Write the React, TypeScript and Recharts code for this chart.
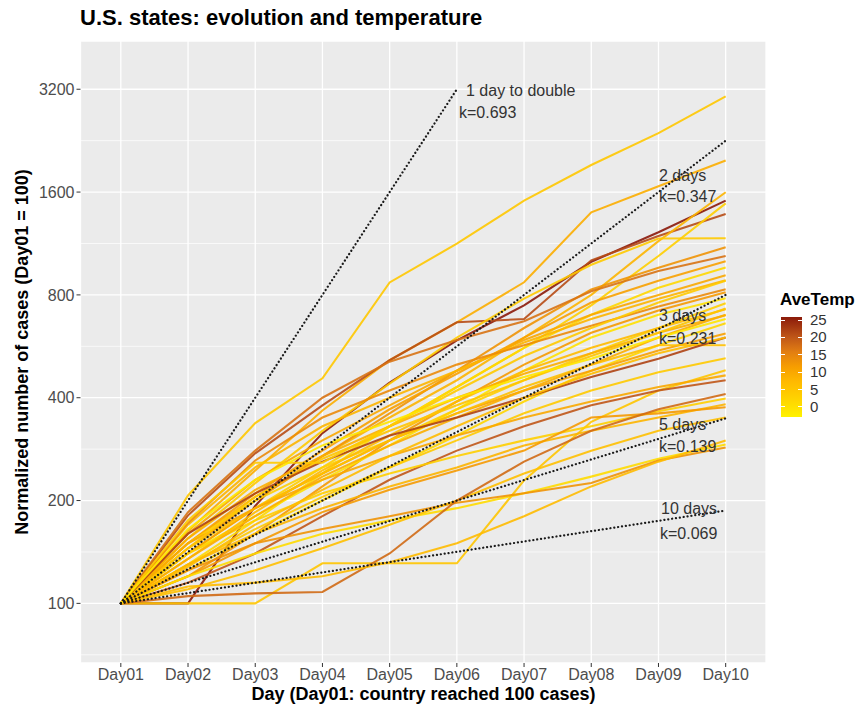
import React from "react";
import { LineChart, Line, XAxis, YAxis, CartesianGrid, ReferenceLine } from "recharts";

const DAYS = ["Day01", "Day02", "Day03", "Day04", "Day05", "Day06", "Day07", "Day08", "Day09", "Day10"];
const Y_TICKS = [100, 200, 400, 800, 1600, 3200];
const TEMP_TICKS = [0, 5, 10, 15, 20, 25];
const TEMP_LIMITS = [-2.9, 25.9];

// normalized cases per state, Day01..Day10
const STATE_CASES: number[][] = [
  [100, 207, 337, 456, 870, 1130, 1510, 1920, 2380, 3050],
  [100, 163, 245, 367, 515, 665, 871, 1396, 1665, 1980],
  [100, 100, 193, 315, 443, 589, 745, 1000, 1220, 1510],
  [100, 181, 275, 380, 515, 665, 680, 1010, 1190, 1380],
  [100, 140, 190, 250, 330, 430, 560, 745, 1040, 1483],
  [100, 150, 205, 270, 350, 450, 600, 800, 1150, 1598],
  [100, 155, 225, 320, 440, 600, 780, 980, 1170, 1172],
  [100, 145, 200, 270, 360, 480, 640, 830, 960, 1103],
  [100, 150, 210, 280, 370, 470, 600, 760, 880, 1003],
  [100, 130, 175, 240, 330, 430, 560, 700, 840, 963],
  [100, 160, 230, 300, 380, 480, 590, 700, 800, 913],
  [100, 170, 250, 330, 400, 480, 580, 680, 780, 883],
  [100, 172, 262, 350, 420, 500, 570, 650, 740, 831],
  [100, 120, 160, 220, 300, 390, 500, 620, 720, 814],
  [100, 140, 180, 230, 290, 370, 480, 600, 700, 782],
  [100, 150, 200, 250, 300, 370, 450, 540, 640, 756],
  [100, 135, 185, 245, 310, 390, 480, 560, 640, 726],
  [100, 155, 215, 270, 330, 400, 470, 540, 620, 697],
  [100, 125, 160, 200, 250, 310, 390, 480, 570, 661],
  [100, 140, 190, 240, 300, 360, 420, 480, 550, 617],
  [100, 145, 190, 240, 300, 360, 430, 500, 570, 570],
  [100, 130, 165, 205, 250, 300, 360, 420, 475, 522],
  [100, 100, 100, 131, 131, 131, 229, 340, 420, 481],
  [100, 150, 190, 230, 270, 310, 350, 390, 430, 465],
  [100, 115, 140, 180, 230, 280, 330, 380, 420, 450],
  [100, 140, 175, 210, 240, 270, 300, 330, 365, 398],
  [100, 130, 160, 190, 220, 250, 290, 320, 350, 383],
  [100, 120, 150, 185, 215, 245, 280, 350, 360, 375],
  [100, 120, 140, 160, 175, 190, 210, 235, 265, 292],
  [100, 125, 150, 165, 180, 197, 210, 225, 262, 286],
  [100, 110, 125, 145, 170, 200, 240, 280, 320, 350],
  [100, 105, 107, 108, 140, 200, 260, 320, 370, 410],
  [100, 112, 115, 120, 132, 150, 180, 220, 260, 300],
  [100, 185, 280, 400, 510, 590, 670, 820, 940, 1040],
  [100, 135, 180, 235, 290, 350, 420, 500, 600, 700],
  [100, 145, 205, 265, 320, 380, 450, 530, 620, 730],
  [100, 160, 210, 260, 310, 350, 400, 460, 520, 600],
  [100, 128, 170, 215, 270, 330, 400, 470, 540, 600],
  [100, 175, 258, 258, 330, 420, 530, 640, 760, 880],
  [100, 165, 230, 290, 340, 400, 460, 520, 600, 680],
];

const STATE_TEMPS = [
  4.5, 9, 25.9, 21, 3, 8, 4, 13, 11, 1.5,
  10, 8, 14, 12, 0, 3, 7, 9, 2, 11,
  6, 4, 5, 10, 20, 3, 8, 12, 1, 13,
  6, 18, 7, 17, 9, 5, 22, 7, 4, -1,
];

// doubling-time guides: start Day01 = 100, end point
const GUIDE_NAMES = ["1 day to double", "2 days", "3 days", "5 days", "10 days"];
const GUIDE_K = ["k=0.693", "k=0.347", "k=0.231", "k=0.139", "k=0.069"];
const GUIDE_END_DAY = [6, 10, 10, 10, 10];
const GUIDE_END_VALUE = [3200, 2263, 800, 348, 187];

const COLOR_STOPS: [number, string][] = [
  [0, "#FFF200"],
  [0.2, "#FFD000"],
  [0.35, "#FFBA00"],
  [0.5, "#F79E00"],
  [0.65, "#E27E12"],
  [0.8, "#BF5618"],
  [1, "#8B1A0A"],
];

function hexToRgb(h: string) {
  return [1, 3, 5].map((i) => parseInt(h.slice(i, i + 2), 16));
}

function tempColor(t: number) {
  const f = Math.min(1, Math.max(0, (t - TEMP_LIMITS[0]) / (TEMP_LIMITS[1] - TEMP_LIMITS[0])));
  for (let i = 1; i < COLOR_STOPS.length; i++) {
    const [p1, c1] = COLOR_STOPS[i];
    const [p0, c0] = COLOR_STOPS[i - 1];
    if (f <= p1) {
      const u = (f - p0) / (p1 - p0);
      const a = hexToRgb(c0), b = hexToRgb(c1);
      const rgb = a.map((v, k) => Math.round(v + (b[k] - v) * u));
      return `rgb(${rgb.join(",")})`;
    }
  }
  return COLOR_STOPS[COLOR_STOPS.length - 1][1];
}

const rows = DAYS.map((_, i) => {
  const row: Record<string, number | null> = { day: i + 1 };
  STATE_CASES.forEach((s, j) => (row[`s${j}`] = s[i]));
  GUIDE_END_DAY.forEach((end, j) => {
    row[`g${j}`] = i === 0 ? 100 : i + 1 === end ? GUIDE_END_VALUE[j] : null;
  });
  return row;
});

const minorBreaks = [Y_TICKS[0] / Math.SQRT2, ...Y_TICKS.slice(0, -1).map((v) => v * Math.SQRT2)];

const FONT = "'Liberation Sans', Arial, sans-serif";

// label placement (pixels) for guide annotations
const GUIDE_LABEL_POS = [
  [466, 91, 459, 113],
  [659, 176, 659, 197],
  [659, 316, 659, 339],
  [659, 425, 659, 447],
  [661, 509, 660, 534],
];

export default function App() {
  const legTop = 317, legH = 100;
  const legY = (v: number) => legTop + legH - ((v - TEMP_LIMITS[0]) / (TEMP_LIMITS[1] - TEMP_LIMITS[0])) * legH;
  const gradStops = COLOR_STOPS.map(([p, c]) => `${c} ${(100 - p * 100).toFixed(1)}%`).reverse().join(", ");

  return (
    <div style={{ position: "relative", width: 866, height: 709, background: "#fff", fontFamily: FONT }}>
      <style>{"body{margin:0}"}</style>
      <LineChart width={866} height={709} data={rows} margin={{ top: 41, right: 100, bottom: 0, left: 0 }}>
        <CartesianGrid fill="#EBEBEB" fillOpacity={1} stroke="#FFFFFF" strokeWidth={1.3} />
        {minorBreaks.map((v) => (
          <ReferenceLine key={v} y={v} stroke="#FFFFFF" strokeWidth={0.7} ifOverflow="hidden" />
        ))}
        <XAxis
          type="number"
          dataKey="day"
          domain={[0.4, 10.6]}
          ticks={DAYS.map((_, i) => i + 1)}
          tickFormatter={(d: number) => DAYS[d - 1]}
          allowDataOverflow
          height={46}
          axisLine={false}
          tickSize={4}
          tickLine={{ stroke: "#333333" }}
          tick={{ fill: "#4D4D4D", fontSize: 16, fontFamily: FONT }}
        />
        <YAxis
          type="number"
          scale="log"
          domain={[66.9, 4430]}
          ticks={Y_TICKS}
          allowDataOverflow
          width={80.5}
          axisLine={false}
          tickSize={4}
          tickLine={{ stroke: "#333333" }}
          tick={{ fill: "#4D4D4D", fontSize: 16, fontFamily: FONT }}
        />
        {STATE_CASES.map((_, j) => (
          <Line
            key={`s${j}`}
            type="linear"
            dataKey={`s${j}`}
            stroke={tempColor(STATE_TEMPS[j])}
            strokeWidth={2.1}
            strokeOpacity={0.9}
            dot={false}
            isAnimationActive={false}
          />
        ))}
        {GUIDE_END_DAY.map((_, j) => (
          <Line
            key={`g${j}`}
            type="linear"
            dataKey={`g${j}`}
            stroke="#1A1A1A"
            strokeWidth={2.2}
            strokeDasharray="0.1 3.8"
            strokeLinecap="round"
            connectNulls
            dot={false}
            isAnimationActive={false}
          />
        ))}
      </LineChart>

      <div style={{ position: "absolute", left: 80, top: 6, fontSize: 22, fontWeight: "bold", lineHeight: "24px", color: "#000" }}>
        U.S. states: evolution and temperature
      </div>
      <div
        style={{
          position: "absolute",
          left: 22,
          top: 352,
          transform: "translate(-50%, -50%) rotate(-90deg)",
          whiteSpace: "nowrap",
          fontSize: 18,
          fontWeight: "bold",
          color: "#000",
        }}
      >
        Normalized number of cases (Day01 = 100)
      </div>
      <div
        style={{
          position: "absolute",
          left: 423.5,
          top: 694,
          transform: "translate(-50%, -50%)",
          whiteSpace: "nowrap",
          fontSize: 18,
          fontWeight: "bold",
          color: "#000",
        }}
      >
        Day (Day01: country reached 100 cases)
      </div>

      {GUIDE_NAMES.map((name, j) => {
        const [x1, y1, x2, y2] = GUIDE_LABEL_POS[j];
        return (
          <React.Fragment key={name}>
            <div style={{ position: "absolute", left: x1, top: y1 - 9, fontSize: 16, lineHeight: "18px", color: "#333", whiteSpace: "nowrap" }}>{name}</div>
            <div style={{ position: "absolute", left: x2, top: y2 - 9, fontSize: 16, lineHeight: "18px", color: "#333", whiteSpace: "nowrap" }}>{GUIDE_K[j]}</div>
          </React.Fragment>
        );
      })}

      <div style={{ position: "absolute", left: 780, top: 291, fontSize: 17, fontWeight: "bold", lineHeight: "18px", color: "#000" }}>AveTemp</div>
      <div style={{ position: "absolute", left: 781, top: legTop, width: 21, height: legH, background: `linear-gradient(to bottom, ${gradStops})` }} />
      {TEMP_TICKS.map((t) => (
        <React.Fragment key={t}>
          <div style={{ position: "absolute", left: 781, top: legY(t) - 0.5, width: 4, height: 1, background: "#fff" }} />
          <div style={{ position: "absolute", left: 798, top: legY(t) - 0.5, width: 4, height: 1, background: "#fff" }} />
          <div style={{ position: "absolute", left: 810, top: legY(t) - 8, fontSize: 15, lineHeight: "16px", color: "#333" }}>{t}</div>
        </React.Fragment>
      ))}
    </div>
  );
}
